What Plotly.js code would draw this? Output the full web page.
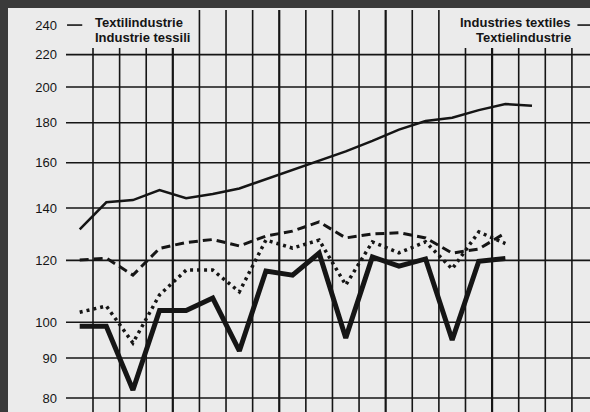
<!DOCTYPE html>
<html>
<head>
<meta charset="utf-8">
<script src="https://cdn.plot.ly/plotly-3.0.1.min.js"></script>
<style>
  html, body { margin: 0; padding: 0; background: #3a3a3a; width: 590px; height: 412px; overflow: hidden; }
  #chart { position: absolute; left: 8px; top: 8px; width: 582px; height: 404px; }
</style>
</head>
<body>
<div id="chart"></div>
<script>
// Quarterly periods (index positions)
const periods = [0, 1, 2, 3, 4, 5, 6, 7, 8, 9, 10, 11, 12, 13, 14, 15, 16, 17];

// Thin solid line (upper series, 18 points)
const seriesThin = [131.5, 142.4, 143.3, 147.6, 144.1, 145.9, 148.3, 152.4, 156.7, 161.0, 165.4, 170.6, 176.4, 180.9, 182.7, 186.8, 190.2, 189.2];
// Dashed line (17 points)
const seriesDashed = [120.1, 120.8, 114.9, 124.3, 126.5, 127.6, 125.2, 128.9, 130.8, 134.4, 128.2, 129.7, 130.2, 128.2, 122.6, 124.1, 130.1];
// Dotted line (17 points)
const seriesDotted = [103.0, 104.9, 94.1, 108.4, 116.6, 116.6, 109.4, 127.4, 124.4, 127.4, 111.6, 126.7, 122.7, 126.7, 117.0, 130.5, 126.1];
// Thick solid line (17 points)
const seriesThick = [98.8, 98.8, 81.9, 103.5, 103.5, 107.4, 91.9, 116.3, 114.9, 122.6, 95.5, 121.2, 118.0, 120.5, 94.9, 119.7, 120.7];

// Axis ticks
const yTickVals = [80, 90, 100, 120, 140, 160, 180, 200, 220, 240];
const yGridVals = [80, 90, 100, 120, 140, 160, 180, 200, 220];
const xGridVals = [0.5, 1.5, 2.5, 3.5, 4.5, 5.5, 6.5, 7.5, 8.5, 9.5, 10.5, 11.5, 12.5, 13.5, 14.5, 15.5, 16.5, 17.5, 18.5];
const xYearBoundaries = [3.5, 7.5, 11.5, 15.5];

const labelsLeft = ['Textilindustrie', 'Industrie tessili'];
const labelsRight = ['Industries textiles', 'Textielindustrie'];

const ink = '#151515';
const bg = '#ebebeb';

const traces = [
  { x: periods.slice(0, seriesThin.length), y: seriesThin, mode: 'lines', line: { color: ink, width: 2.5 }, hoverinfo: 'skip' },
  { x: periods.slice(0, seriesDashed.length), y: seriesDashed, mode: 'lines', line: { color: ink, width: 3, dash: '9px,5px' }, hoverinfo: 'skip' },
  { x: periods.slice(0, seriesDotted.length), y: seriesDotted, mode: 'lines', line: { color: ink, width: 3.5, dash: '3px,4px' }, hoverinfo: 'skip' },
  { x: periods.slice(0, seriesThick.length), y: seriesThick, mode: 'lines', line: { color: ink, width: 5 }, hoverinfo: 'skip' }
];

const shapes = [];
yGridVals.forEach(v => shapes.push({ type: 'line', xref: 'paper', yref: 'y', x0: 0, x1: 1, y0: v, y1: v, line: { color: ink, width: 1.6 }, layer: 'below' }));
xGridVals.forEach(v => shapes.push({ type: 'line', xref: 'x', yref: 'paper', x0: v, x1: v, y0: 0, y1: 1, line: { color: ink, width: xYearBoundaries.includes(v) ? 2.2 : 1.6 }, layer: 'below' }));
// cover boxes behind the top labels
shapes.push({ type: 'rect', xref: 'paper', yref: 'paper', x0: 0.036, x1: 0.248, y0: 0.9055, y1: 1.01, fillcolor: bg, line: { width: 0 }, layer: 'below' });
shapes.push({ type: 'rect', xref: 'paper', yref: 'paper', x0: 0.740, x1: 0.973, y0: 0.9055, y1: 1.01, fillcolor: bg, line: { width: 0 }, layer: 'below' });
// short marks at 240
shapes.push({ type: 'line', xref: 'paper', yref: 'y', x0: 0.002, x1: 0.031, y0: 240, y1: 240, line: { color: ink, width: 1.6 } });
shapes.push({ type: 'line', xref: 'paper', yref: 'y', x0: 0.976, x1: 1, y0: 240, y1: 240, line: { color: ink, width: 1.6 } });

const annFont = { family: 'Liberation Sans, Arial, sans-serif', size: 13, color: ink, weight: 'bold' };
const annotations = [
  { xref: 'paper', yref: 'paper', x: 0.0515, y: 0.9701, xanchor: 'left', yanchor: 'middle', text: '<b>' + labelsLeft[0] + '</b>', showarrow: false, font: annFont },
  { xref: 'paper', yref: 'paper', x: 0.0515, y: 0.9328, xanchor: 'left', yanchor: 'middle', text: '<b>' + labelsLeft[1] + '</b>', showarrow: false, font: annFont },
  { xref: 'paper', yref: 'paper', x: 0.9676, y: 0.9701, xanchor: 'right', yanchor: 'middle', text: '<b>' + labelsRight[0] + '</b>', showarrow: false, font: annFont },
  { xref: 'paper', yref: 'paper', x: 0.9676, y: 0.9328, xanchor: 'right', yanchor: 'middle', text: '<b>' + labelsRight[1] + '</b>', showarrow: false, font: annFont }
];

const layout = {
  width: 582, height: 404,
  margin: { l: 58, r: 0, t: 2, b: 0 },
  paper_bgcolor: bg, plot_bgcolor: bg,
  showlegend: false,
  xaxis: { range: [-0.515, 19.18], showgrid: false, zeroline: false, showticklabels: false, showline: false, ticks: '', fixedrange: true },
  yaxis: {
    type: 'log', range: [1.88518, 2.39948],
    tickmode: 'array', tickvals: yTickVals, ticktext: yTickVals.map(String),
    showgrid: false, zeroline: false, showline: false, ticks: '',
    ticklabelstandoff: 8,
    tickfont: { family: 'Liberation Sans, Arial, sans-serif', size: 13, color: ink },
    fixedrange: true
  },
  shapes: shapes,
  annotations: annotations
};

Plotly.newPlot('chart', traces, layout, { displayModeBar: false, staticPlot: true });
</script>
</body>
</html>
